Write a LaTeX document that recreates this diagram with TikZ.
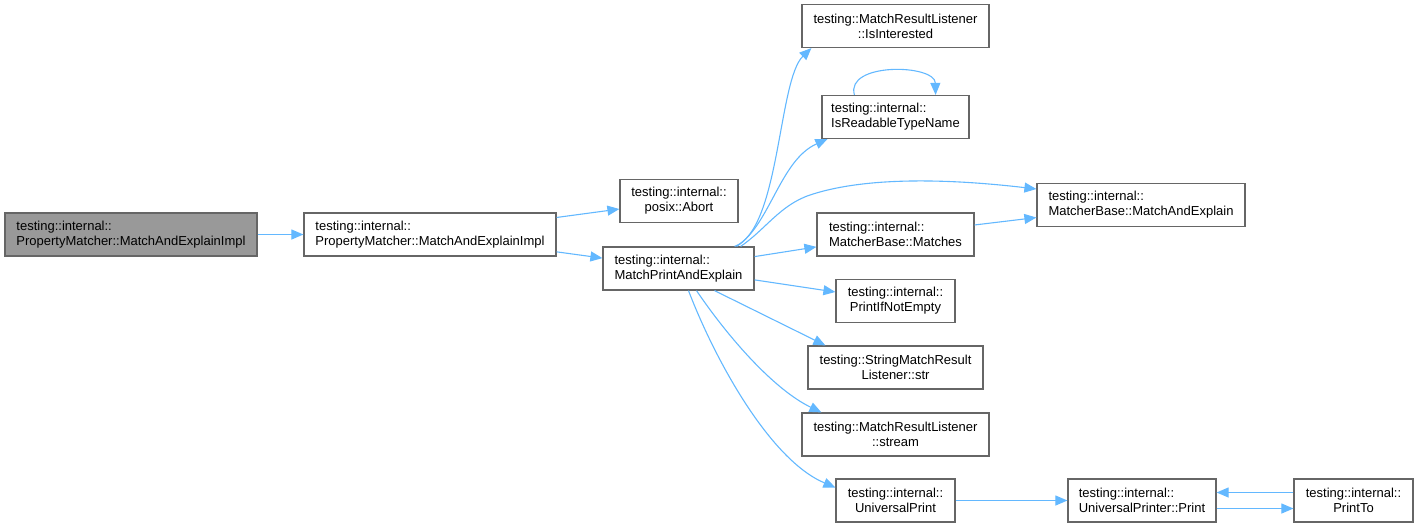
\documentclass[tikz,border=0pt]{standalone}
\usepackage{fontspec}
\setmainfont{Liberation Sans}
\usetikzlibrary{arrows.meta}
\definecolor{edgeblue}{HTML}{63B8FF}
\definecolor{boxgray}{HTML}{666666}
\definecolor{rootgray}{HTML}{999999}

\begin{document}
\begin{tikzpicture}[
  x=1pt, y=-1pt,
  font=\fontsize{13}{15}\selectfont,
  fn/.style={draw=boxgray, line width=1.2pt, fill=white, minimum height=43pt, inner sep=0pt, align=center},
  fnl/.style={fn, align=left},
  arr/.style={-{Triangle[length=12pt,width=10pt,fill=edgeblue]}, draw=edgeblue, line width=1.1pt}
]
  \useasboundingbox (0,0) rectangle (1418,528);
  \node[fnl, fill=rootgray, minimum width=252pt] (n0) at (131,234.5) {testing::internal::\\PropertyMatcher::MatchAndExplainImpl};
  \node[fnl, minimum width=252pt] (n1) at (430,234.5) {testing::internal::\\PropertyMatcher::MatchAndExplainImpl};
  \node[fn, minimum width=118pt] (n2) at (679,201) {testing::internal::\\posix::Abort};
  \node[fnl, minimum width=151pt] (n3) at (678.5,268.5) {testing::internal::\\MatchPrintAndExplain};
  \node[fn, minimum width=187pt] (n4) at (895.5,26) {testing::MatchResultListener\\::IsInterested};
  \node[fnl, minimum width=147pt] (n5) at (895.5,117) {testing::internal::\\IsReadableTypeName};
  \node[fnl, minimum width=208pt] (n6) at (1141,205) {testing::internal::\\MatcherBase::MatchAndExplain};
  \node[fnl, minimum width=157pt] (n7) at (895.5,234.5) {testing::internal::\\MatcherBase::Matches};
  \node[fn, minimum width=119pt] (n8) at (895.5,301) {testing::internal::\\PrintIfNotEmpty};
  \node[fn, minimum width=175pt] (n9) at (895.5,367.5) {testing::StringMatchResult\\Listener::str};
  \node[fn, minimum width=187pt] (n10) at (895.5,434.5) {testing::MatchResultListener\\::stream};
  \node[fn, minimum width=119pt] (n11) at (895.5,500.5) {testing::internal::\\UniversalPrint};
  \node[fnl, minimum width=148pt] (n12) at (1142,500.5) {testing::internal::\\UniversalPrinter::Print};
  \node[fn, minimum width=119pt] (n13) at (1353.5,500.5) {testing::internal::\\PrintTo};
  \foreach \a/\b in {n0/n1,n1/n2,n1/n3,n3/n7,n7/n6,n3/n8,n11/n12} \draw[arr] (\a) -- (\b);
  \draw[arr] ([xshift=-20pt]n3.north east) .. controls (780,230) and (778,80) .. ([xshift=10pt]n4.south west);
  \draw[arr] ([xshift=-18pt]n3.north east) .. controls (770,225) and (780,160) .. ([xshift=6pt]n5.south west);
  \draw[arr] ([xshift=-14pt]n3.north east) .. controls (765,230) and (780,205) .. (810,195)
    .. controls (870,175) and (960,180) .. ([yshift=16pt]n6.west);
  \draw[arr] ([xshift=36pt]n3.south) -- ([xshift=18pt]n9.north west);
  \draw[arr] ([xshift=18pt]n3.south) .. controls (730,340) and (775,390) .. ([xshift=20pt]n10.north west);
  \draw[arr] ([xshift=10pt]n3.south) .. controls (715,360) and (770,460) .. ([yshift=13pt]n11.west);
  \draw[arr] ([yshift=-8pt]n12.east) -- ([yshift=-8pt]n13.west);
  \draw[arr] ([yshift=8pt]n13.west) -- ([yshift=8pt]n12.east);
  \draw[arr] ([xshift=33pt]n5.north west) .. controls (845,62) and (935,64) .. ([xshift=-34pt]n5.north east);
\end{tikzpicture}
\end{document}
